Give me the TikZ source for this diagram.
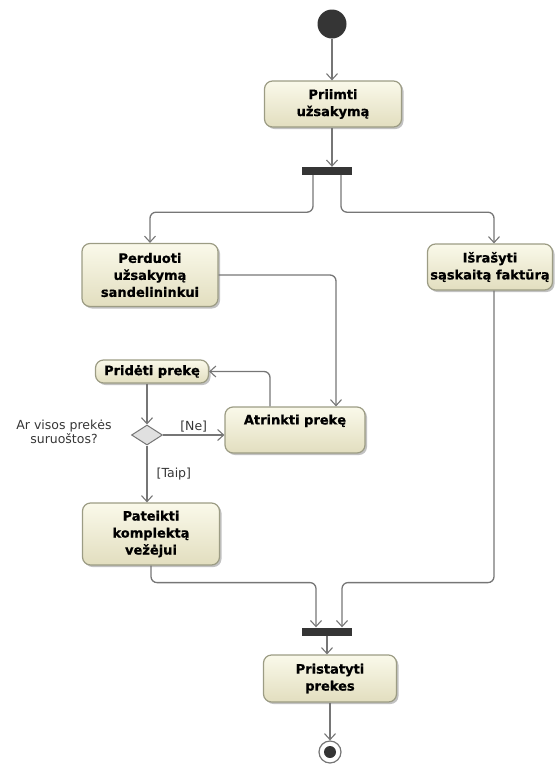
\documentclass[tikz,border=0pt]{standalone}
\usepackage{fontspec}
\setmainfont{DejaVu Sans}[BoldFeatures={FakeBold=0.8}]
\usetikzlibrary{arrows.meta,shapes.geometric,shadows}

\definecolor{edgegray}{HTML}{767676}
\definecolor{boxborder}{HTML}{9C9C84}
\definecolor{boxtop}{HTML}{FAF9EA}
\definecolor{boxbottom}{HTML}{E2DEBF}
\definecolor{nodedark}{HTML}{353535}
\definecolor{labelgray}{HTML}{363636}

\tikzset{
  act/.style={rectangle, rounded corners=8pt, draw=boxborder, line width=1.2pt,
    top color=boxtop, bottom color=boxbottom, align=center,
    font=\bfseries\fontsize{13}{17}\selectfont, text=black,
    drop shadow={shadow xshift=2pt, shadow yshift=-2pt, opacity=0.4, fill=black!60},
    inner sep=2pt},
  bar/.style={rectangle, fill=nodedark, draw=none, minimum width=50pt, minimum height=8pt, inner sep=0pt},
  flow/.style={draw=edgegray, line width=1.3pt, rounded corners=6pt,
    -{Straight Barb[length=6pt, width=11pt, line width=1.1pt]}},
  guard/.style={font=\fontsize{12.5}{14.5}\selectfont, text=labelgray, inner sep=1pt},
  decision/.style={diamond, draw=edgegray, fill=black!12, line width=1pt,
    minimum width=31pt, minimum height=20pt, inner sep=0pt, aspect=1.5},
}

\begin{document}
\begin{tikzpicture}[x=1pt, y=-1pt]
  \useasboundingbox (0,0) rectangle (559,764);

  % initial and final nodes
  \node[circle, fill=nodedark, minimum size=29pt, inner sep=0pt] (start) at (332,24) {};
  \node[circle, draw=edgegray, fill=white, line width=1.2pt, minimum size=22pt, inner sep=0pt] (stop) at (330,752) {};
  \node[circle, fill=nodedark, minimum size=12pt, inner sep=0pt] (stopdot) at (stop.center) {};

  % actions
  \node[act, minimum width=137pt, minimum height=46pt] (priimti) at (333,104) {Priimti\\užsakymą};
  \node[act, minimum width=136pt, minimum height=63pt] (perduoti) at (150,275) {Perduoti\\užsakymą\\sandelininkui};
  \node[act, minimum width=125pt, minimum height=46pt] (israsyti) at (490,267) {Išrašyti\\sąskaitą faktūrą};
  \node[act, minimum width=113pt, minimum height=23pt] (prideti) at (152,371.5) {Pridėti prekę};
  \node[act, minimum width=140pt, minimum height=46pt] (atrinkti) at (295,430) {Atrinkti prekę\\[4pt]\mbox{}};
  \node[act, minimum width=137pt, minimum height=62pt] (pateikti) at (151,534) {Pateikti\\komplektą\\vežėjui};
  \node[act, minimum width=133pt, minimum height=47pt] (pristatyti) at (330,678.5) {Pristatyti\\prekes};

  % fork and join bars
  \node[bar] (fork) at (327,171) {};
  \node[bar] (join) at (327,631.5) {};

  % decision
  \node[decision] (dec) at (147,435) {};
  \node[guard, align=center] (question) at (64,432) {Ar visos prekės\\suruoštos?};

  % control flows
  \draw[flow] (start) -- (priimti.north -| start);
  \draw[flow] (priimti.south -| start) -- (fork.north -| start);
  \draw[flow] ([xshift=-14pt]fork.south) -- ++(0,37) -| (perduoti.north);
  \draw[flow] ([xshift=14pt]fork.south) -- ++(0,37) -| ([xshift=4pt]israsyti.north);
  \draw[flow] (perduoti.east) -| ([xshift=41pt]atrinkti.north);
  \draw[flow] ([xshift=-25pt]atrinkti.north) |- (prideti.east);
  \draw[flow] (prideti.south -| dec) -- (dec.north);
  \draw[flow] (dec.east) -- (atrinkti.west |- dec) node[guard, midway, above=1pt] (ne) {[Ne]};
  \draw[flow] (dec.south) -- (pateikti.north -| dec) node[guard, midway, right=8pt] (taip) {[Taip]};
  \draw[flow] (pateikti.south) -- ++(0,17) -| ([xshift=-11pt]join.north);
  \draw[flow] ([xshift=4pt]israsyti.south) -- ++(0,292) -| ([xshift=15pt]join.north);
  \draw[flow] (join.south) -- (pristatyti.north -| join);
  \draw[flow] (pristatyti.south -| stop) -- (stop.north);
\end{tikzpicture}
\end{document}
